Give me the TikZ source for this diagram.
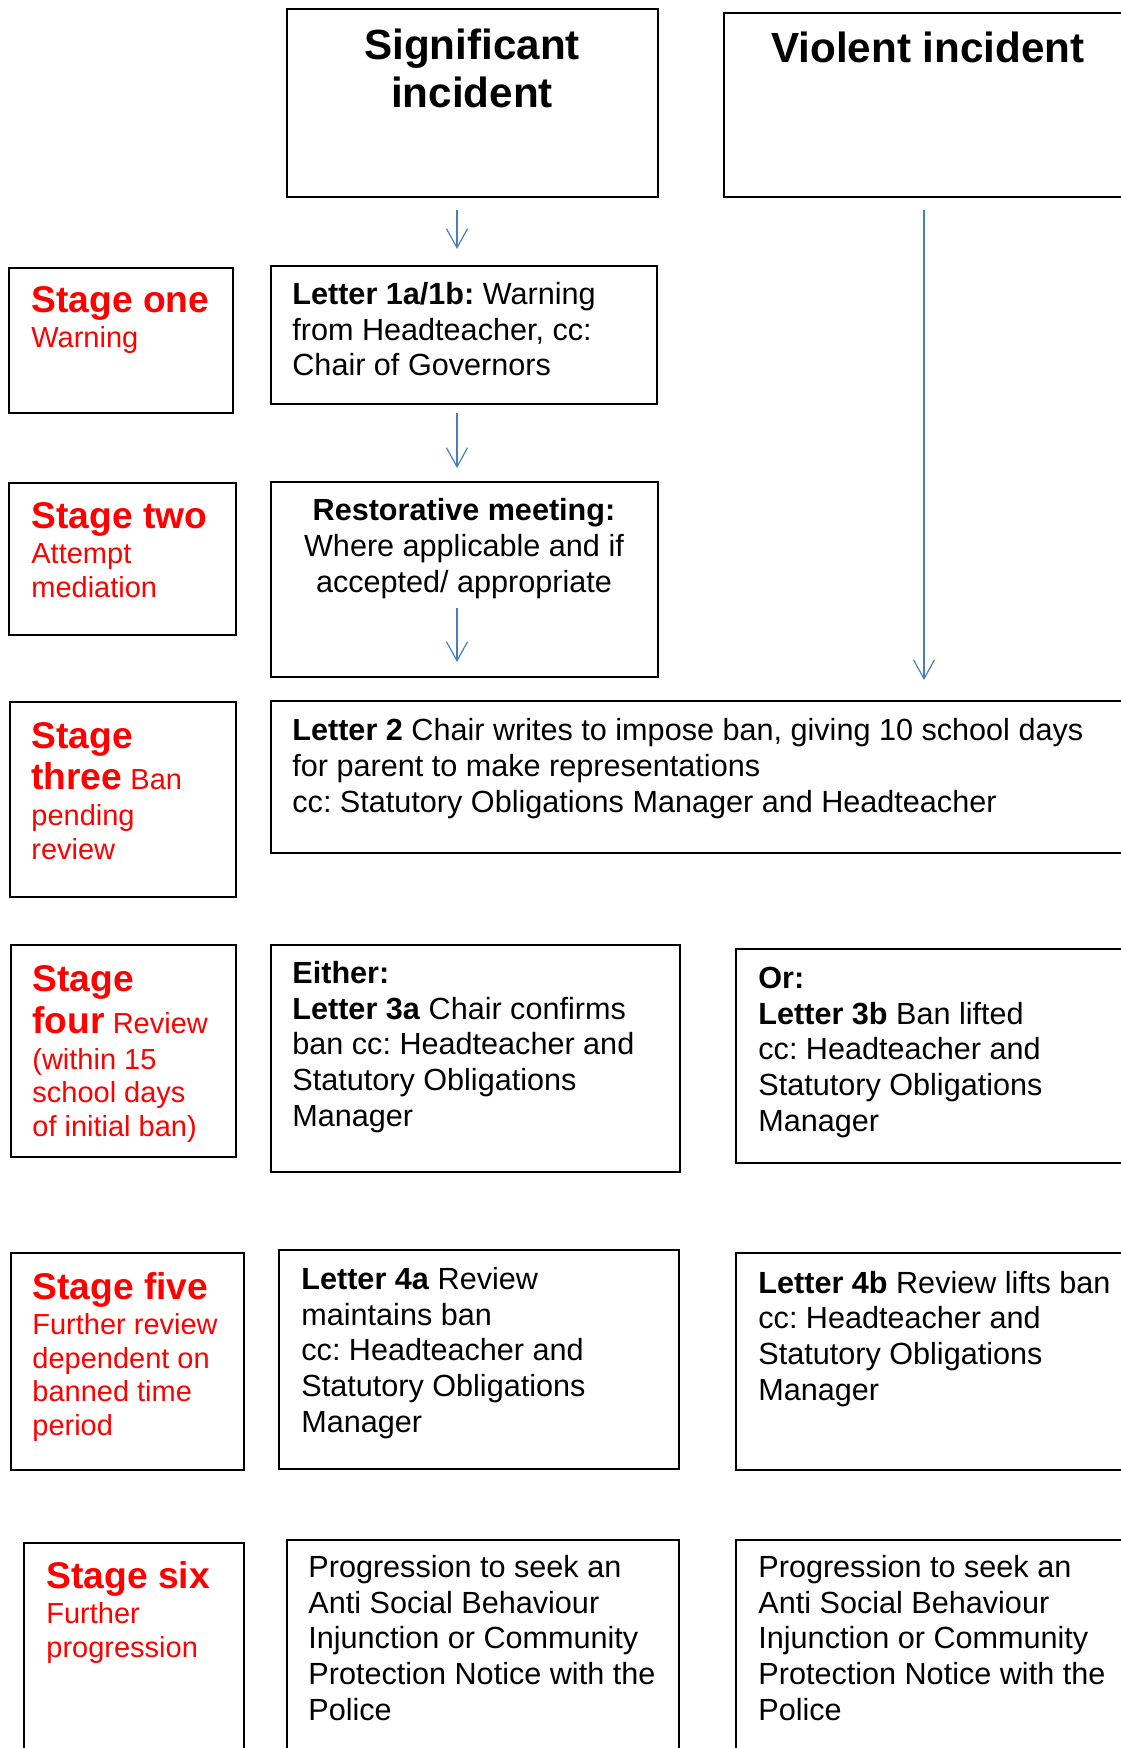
\documentclass[tikz,border=0pt]{standalone}
\usepackage{fontspec}
\setmainfont{Liberation Sans}
\usetikzlibrary{arrows.meta}
\definecolor{flowblue}{HTML}{4A7EBB}
\definecolor{stagered}{HTML}{FF0000}
\frenchspacing
\newcommand{\headfont}{\fontsize{18.6}{21}\selectfont\bfseries}
\newcommand{\stagefont}{\fontsize{14.5}{16.75}\selectfont\lineskiplimit-20pt\relax}
\tikzstyle{boxframe}=[draw=black, line width=0.9pt, inner sep=0pt, outer sep=0pt]
\tikzstyle{bodytext}=[inner sep=0pt, align=left, anchor=base west, font=\fontsize{15.3}{17.8}\selectfont]
\tikzstyle{stagetext}=[inner sep=0pt, align=left, anchor=base west, text=stagered, font=\stagefont]
\tikzstyle{titletext}=[inner sep=0pt, align=center, anchor=base, font=\fontsize{21.1}{24}\selectfont\bfseries]
\tikzstyle{flowarrow}=[draw=flowblue, line width=0.6pt, -{Straight Barb[length=9.5pt,width=10.5pt]}]
\newcommand{\flowbox}[5]{% name, left, top, right, bottom (in px of the page)
  \node[boxframe, minimum width={(#4-#2)*0.5pt}, minimum height={(#5-#3)*0.5pt}] (#1) at ({(#2+#4)/2},{(#3+#5)/2}) {};
}
\begin{document}
\begin{tikzpicture}[x=0.5pt, y=-0.5pt]
  \useasboundingbox (0,0) rectangle (1120,1748);
  % incident boxes (texts are placed by the baseline of their last line)
  \flowbox{sig}{287}{9}{658}{197}
  \flowbox{viol}{724}{13}{1130}{197}
  \node[titletext] (sigtxt) at (472,108) {Significant\\incident};
  \node[titletext] (violtxt) at (928,63) {Violent incident};
  % stage column
  \flowbox{stone}{9}{268}{233}{413}
  \flowbox{sttwo}{9}{483}{236}{635}
  \flowbox{stthree}{10}{702}{236}{897}
  \flowbox{stfour}{11}{945}{236}{1157}
  \flowbox{stfive}{11}{1253}{244}{1470}
  \flowbox{stsix}{24}{1543}{244}{1760}
  \node[stagetext] (stonetxt) at (31,348) {{\headfont Stage one}\\[0.75pt]Warning};
  \node[stagetext] (sttwotxt) at (31,597) {{\headfont Stage two}\\[0.75pt]Attempt\\mediation};
  \node[stagetext] (stthreetxt) at (31,859) {{\headfont Stage}\\[3.75pt]{\headfont three} Ban\\[1.25pt]pending\\review};
  \node[stagetext] (stfourtxt) at (32,1136) {{\headfont Stage}\\[4.25pt]{\headfont four} Review\\[1pt](within 15\\school days\\of initial ban)};
  \node[stagetext] (stfivetxt) at (32,1435) {{\headfont Stage five}\\[1pt]Further review\\dependent on\\banned time\\period};
  \node[stagetext] (stsixtxt) at (46,1657) {{\headfont Stage six}\\[0.75pt]Further\\progression};
  % letters
  \flowbox{ltone}{271}{266}{657}{404}
  \flowbox{restore}{271}{482}{658}{677}
  \flowbox{lttwo}{271}{701}{1130}{853}
  \flowbox{either}{271}{945}{680}{1172}
  \flowbox{orbox}{736}{949}{1130}{1163}
  \flowbox{ltfoura}{279}{1250}{679}{1469}
  \flowbox{ltfourb}{736}{1253}{1130}{1470}
  \flowbox{proga}{287}{1540}{679}{1760}
  \flowbox{progb}{736}{1540}{1130}{1760}
  \node[bodytext] (ltonetxt) at (292,376) {\textbf{Letter 1a/1b:} Warning\\from Headteacher, cc:\\Chair of Governors};
  \node[bodytext, align=center, anchor=base] (restoretxt) at (464,592) {\textbf{Restorative meeting:}\\Where applicable and if\\accepted/ appropriate};
  \node[bodytext] (lttwotxt) at (292,812) {\textbf{Letter 2} Chair writes to impose ban, giving 10 school days\\for parent to make representations\\cc: Statutory Obligations Manager and Headteacher};
  \node[bodytext] (eithertxt) at (292,1126) {\textbf{Either:}\\\textbf{Letter 3a} Chair confirms\\ban cc: Headteacher and\\Statutory Obligations\\Manager};
  \node[bodytext] (ortxt) at (758,1131) {\textbf{Or:}\\\textbf{Letter 3b} Ban lifted\\cc: Headteacher and\\Statutory Obligations\\Manager};
  \node[bodytext] (ltfouratxt) at (301,1432) {\textbf{Letter 4a} Review\\maintains ban\\cc: Headteacher and\\Statutory Obligations\\Manager};
  \node[bodytext] (ltfourbtxt) at (758,1400) {\textbf{Letter 4b} Review lifts ban\\cc: Headteacher and\\Statutory Obligations\\Manager};
  \node[bodytext] (progatxt) at (308,1720) {Progression to seek an\\Anti Social Behaviour\\Injunction or Community\\Protection Notice with the\\Police};
  \node[bodytext] (progbtxt) at (758,1720) {Progression to seek an\\Anti Social Behaviour\\Injunction or Community\\Protection Notice with the\\Police};
  % arrows
  \coordinate (colA) at (457,0);
  \coordinate (colB) at (924,0);
  \coordinate (restorearrow) at (457,608);
  \draw[flowarrow, shorten <=6.5pt, shorten >=8.5pt] (sig.south -| colA) -- (ltone.north -| colA);
  \draw[flowarrow, shorten <=4.5pt, shorten >=7pt] (ltone.south -| colA) -- (restore.north -| colA);
  \draw[flowarrow, shorten >=19.5pt] (restorearrow) -- (lttwo.north -| colA);
  \draw[flowarrow, shorten <=6.5pt, shorten >=10.5pt] (viol.south -| colB) -- (lttwo.north -| colB);
\end{tikzpicture}
\end{document}
